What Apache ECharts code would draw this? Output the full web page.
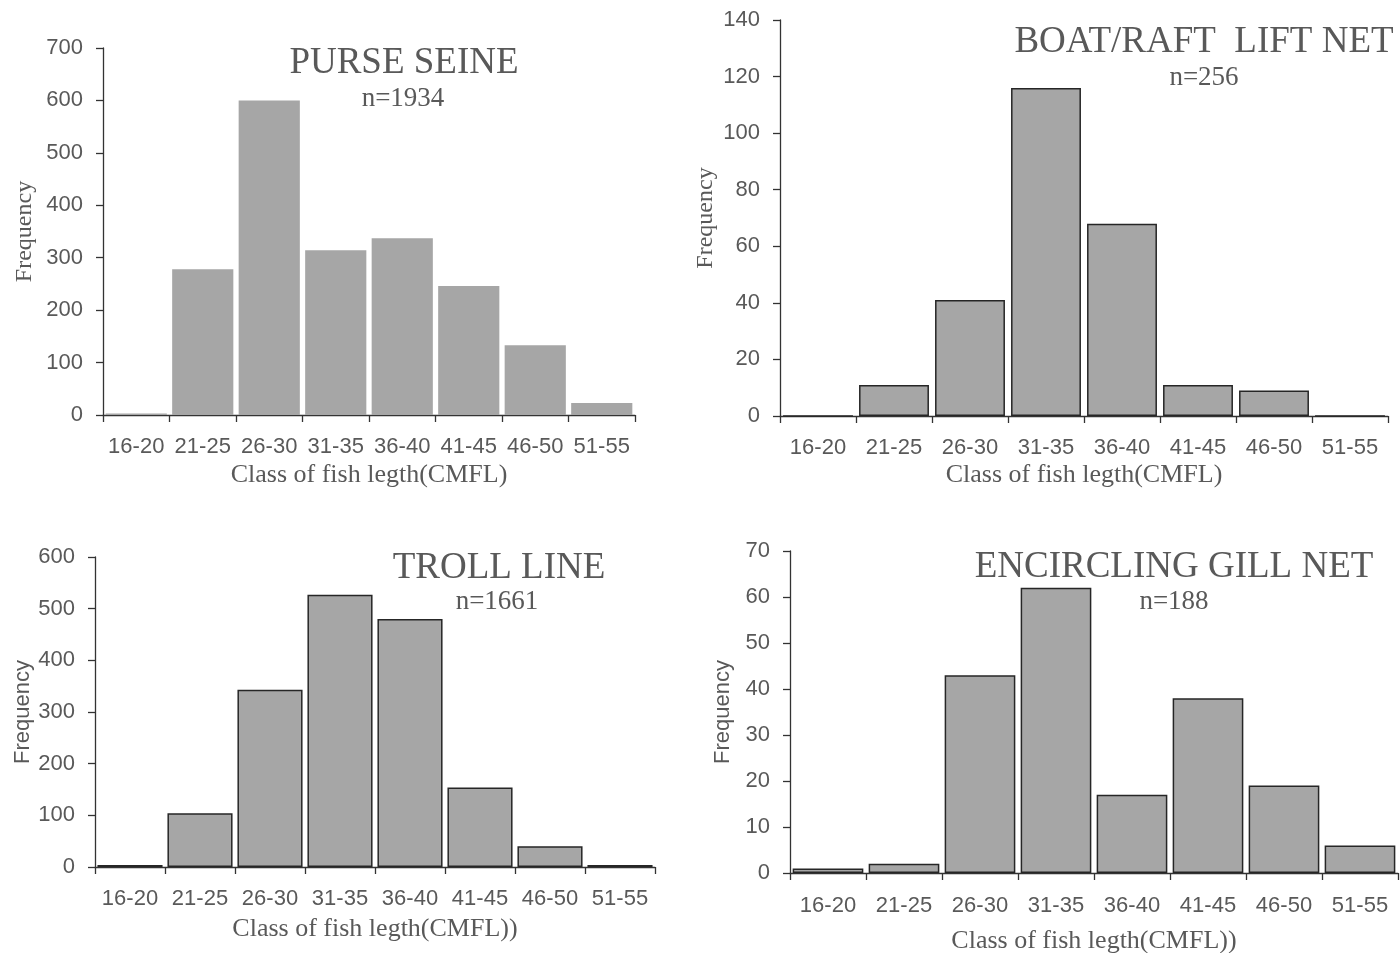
<!DOCTYPE html>
<html>
<head>
<meta charset="utf-8">
<script src="https://cdn.jsdelivr.net/npm/echarts@6/dist/echarts.min.js"></script>
<style>
html,body{margin:0;padding:0;background:#fff;}
#chart{width:1400px;height:953px;}
</style>
</head>
<body>
<div id="chart"></div>
<script>
// ---- data ----
const categories = ['16-20', '21-25', '26-30', '31-35', '36-40', '41-45', '46-50', '51-55'];
const purseSeine = [3, 278, 600, 314, 337, 246, 133, 23];
const boatRaftLiftNet = [0, 11, 41, 116, 68, 11, 9, 0];
const trollLine = [4, 104, 343, 527, 480, 154, 40, 4];
const encirclingGillNet = [1, 2, 43, 62, 17, 38, 19, 6];
const panelTitles = ['PURSE SEINE', 'BOAT/RAFT  LIFT NET', 'TROLL LINE', 'ENCIRCLING GILL NET'];
const sampleSizes = ['n=1934', 'n=256', 'n=1661', 'n=188'];
const xAxisTitles = ['Class of fish legth(CMFL)', 'Class of fish legth(CMFL)', 'Class of fish legth(CMFL))', 'Class of fish legth(CMFL))'];
const yAxisTitle = 'Frequency';
const yMax = [700, 140, 600, 70];
const yStep = [100, 20, 100, 10];

// ---- layout / style ----
const SERIF = "'Liberation Serif','Times New Roman',serif";
const SANS = "'Liberation Sans',Arial,sans-serif";
const TXT = '#595959';
const AX = '#333333';
const grids = [
  {left: 103, top: 48, width: 532, height: 367},
  {left: 780, top: 20, width: 608, height: 396},
  {left: 95, top: 557, width: 560, height: 310},
  {left: 790, top: 551, width: 608, height: 322}
];
const titlePos = [
  {x: 404, y: 63, nx: 403, ny: 99},
  {x: 1204, y: 42, nx: 1204, ny: 78},
  {x: 499, y: 568, nx: 497, ny: 602},
  {x: 1174, y: 567, nx: 1174, ny: 602}
];
const xNameGap = [47, 46, 49, 55];
const xLabelMargin = [21, 21, 21, 22];
const yNameGap = [66, 62, 58, 56];
const yNameFont = [
  {fontFamily: SERIF, fontSize: 24},
  {fontFamily: SERIF, fontSize: 24},
  {fontFamily: SANS, fontSize: 22},
  {fontFamily: SANS, fontSize: 22}
];
const bordered = [false, true, true, true];
const barGap = ['8%', '8%', '7%', '7%'];
const seriesData = [purseSeine, boatRaftLiftNet, trollLine, encirclingGillNet];

const option = {
  animation: false,
  backgroundColor: '#ffffff',
  grid: grids.map(g => Object.assign({containLabel: false, outerBoundsMode: 'none'}, g)),
  xAxis: grids.map((g, i) => ({
    type: 'category',
    gridIndex: i,
    data: categories,
    name: xAxisTitles[i],
    nameLocation: 'middle',
    nameGap: xNameGap[i],
    nameTextStyle: {fontFamily: SERIF, fontSize: 26, color: TXT},
    axisLine: {lineStyle: {color: AX, width: 1.3}},
    axisTick: {show: true, inside: false, length: 7, lineStyle: {color: AX, width: 1.3}},
    axisLabel: {fontFamily: SANS, fontSize: 22, color: TXT, margin: xLabelMargin[i], interval: 0},
    splitLine: {show: false}
  })),
  yAxis: grids.map((g, i) => ({
    type: 'value',
    gridIndex: i,
    min: 0,
    max: yMax[i],
    interval: yStep[i],
    name: yAxisTitle,
    nameLocation: 'middle',
    nameRotate: 90,
    nameGap: yNameGap[i],
    nameTextStyle: Object.assign({color: TXT}, yNameFont[i]),
    axisLine: {show: true, lineStyle: {color: AX, width: 1.3}},
    axisTick: {show: true, inside: false, length: 7, lineStyle: {color: AX, width: 1.3}},
    axisLabel: {fontFamily: SANS, fontSize: 22, color: TXT, margin: 20},
    splitLine: {show: false}
  })),
  series: seriesData.map((d, i) => ({
    type: 'bar',
    xAxisIndex: i,
    yAxisIndex: i,
    data: d,
    barCategoryGap: barGap[i],
    itemStyle: bordered[i]
      ? {color: '#a6a6a6', borderColor: '#262626', borderWidth: 1.5}
      : {color: '#a6a6a6'}
  })),
  graphic: titlePos.flatMap((p, i) => [
    {type: 'text', x: p.x, y: p.y, style: {text: panelTitles[i], font: '37px ' + SERIF, fill: TXT, textAlign: 'center', textVerticalAlign: 'middle'}},
    {type: 'text', x: p.nx, y: p.ny, style: {text: sampleSizes[i], font: '27px ' + SERIF, fill: TXT, textAlign: 'center', textVerticalAlign: 'middle'}}
  ])
};

const chart = echarts.init(document.getElementById('chart'), null, {renderer: 'canvas'});
chart.setOption(option);
</script>
</body>
</html>
